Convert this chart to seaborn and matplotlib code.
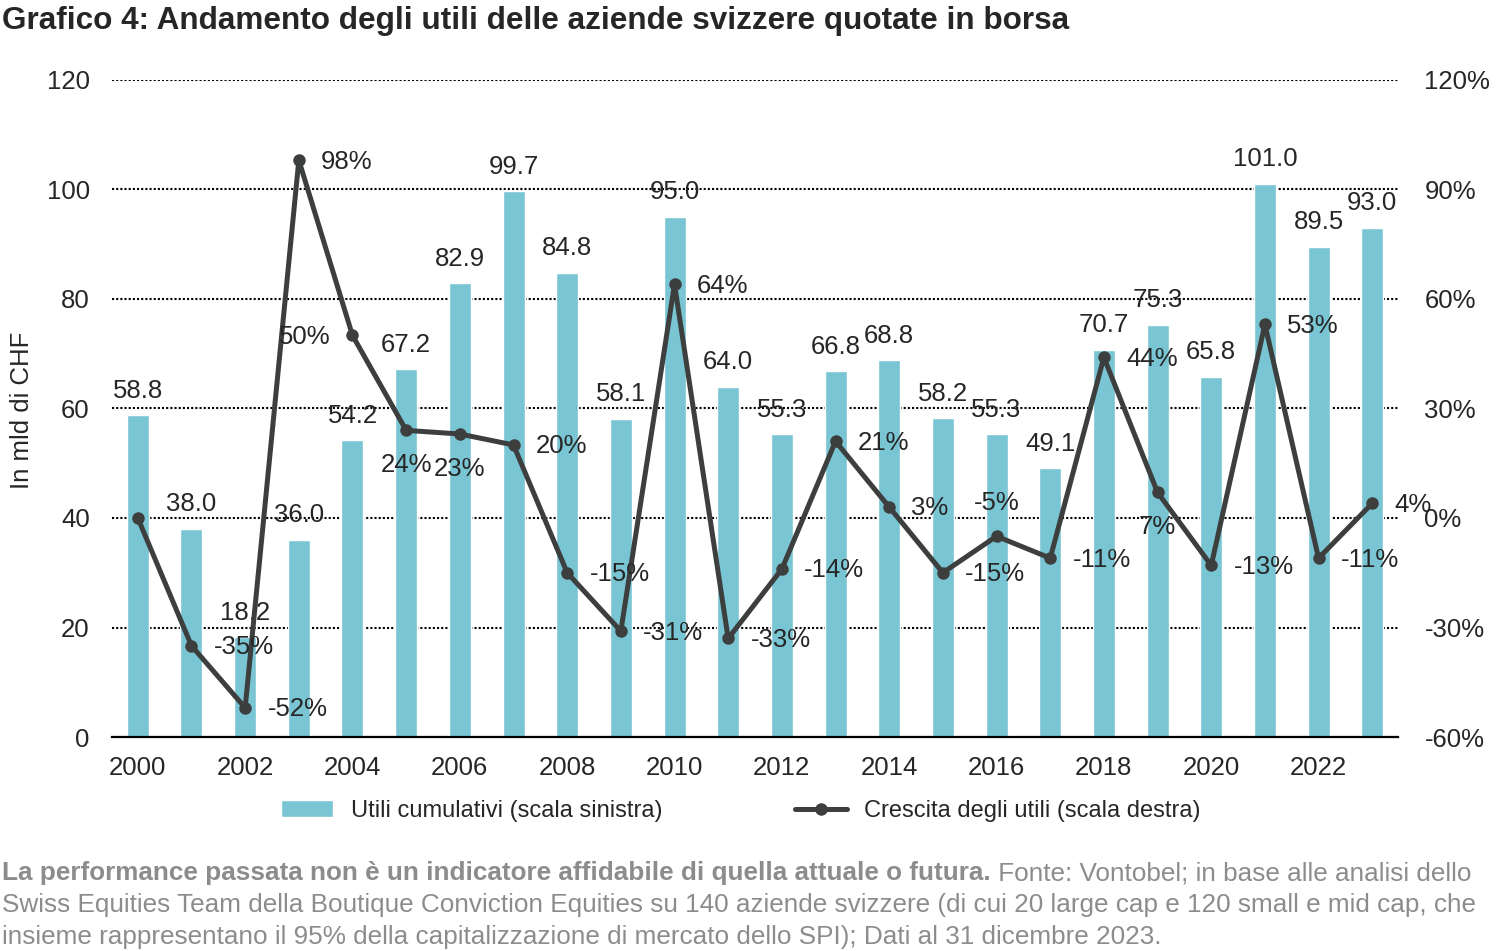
import numpy as np
import pandas as pd
import matplotlib
matplotlib.use("Agg")
import matplotlib.pyplot as plt
from matplotlib import font_manager
import seaborn as sns

# Dati
anni = list(range(2000, 2024))
utili = [58.8, 38.0, 18.2, 36.0, 54.2, 67.2, 82.9, 99.7, 84.8, 58.1, 95.0, 64.0,
         55.3, 66.8, 68.8, 58.2, 55.3, 49.1, 70.7, 75.3, 65.8, 101.0, 89.5, 93.0]
crescita = [0, -35, -52, 98, 50, 24, 23, 20, -15, -31, 64, -33,
            -14, 21, 3, -15, -5, -11, 44, 7, -13, 53, -11, 4]
etichette_x = [str(a) if a % 2 == 0 else "" for a in anni]
tick_sx = [0, 20, 40, 60, 80, 100, 120]
tick_dx = [-60, -30, 0, 30, 60, 90, 120]

# posizione delle etichette di crescita: r=destra, l=sinistra, b=sotto, a=sopra, None=nessuna
pos_etichette = [None, "r", "r", "r", "l", "b", "b", "r", "r", "r", "r", "r",
                 "r", "r", "r", "r", "a", "r", "r", "b", "r", "r", "r", "r"]

df = pd.DataFrame({"anno": [str(a) for a in anni], "utili": utili, "crescita": crescita})

sns.set_style("white")
plt.rcParams["font.family"] = ["Liberation Sans", "DejaVu Sans"]
installati = {f.name for f in font_manager.fontManager.ttflist}
if "Liberation Sans Narrow" in installati:
    font_legenda = {"family": "Liberation Sans Narrow", "size": 18.5}
else:
    font_legenda = {"family": "Liberation Sans", "size": 17}

BLU = "#79C5D3"
GRIGIO = "#3D3F3E"
FS = 18.5

fig = plt.figure(figsize=(15, 9.51), dpi=100)
ax = fig.add_axes([0.0747, 0.225, 0.8573, 0.691])

sns.barplot(data=df, x="anno", y="utili", ax=ax, color=BLU, saturation=1, width=0.41,
            label="Utili cumulativi (scala sinistra)")
ax.bar_label(ax.containers[0], labels=[f"{v:.1f}" for v in utili], padding=9, fontsize=FS)

ax.set_ylim(0, 120)
ax.set_yticks(tick_sx)
ax.set_xticks(range(len(anni)))
ax.set_xticklabels(etichette_x)
ax.set_xlabel("")
ax.set_ylabel("")
ax.tick_params(axis="y", length=0, pad=16, labelsize=FS)
ax.tick_params(axis="x", length=0, pad=14, labelsize=FS)
ax.yaxis.grid(True, linestyle=(0, (1, 1)), color="black", linewidth=1.5)
ax.set_axisbelow(True)
for s in ["left", "right", "top"]:
    ax.spines[s].set_visible(False)
ax.spines["bottom"].set_color("black")
ax.spines["bottom"].set_linewidth(1.6)

ax2 = ax.twinx()
sns.lineplot(x=np.arange(len(anni)), y=crescita, ax=ax2, color=GRIGIO, marker="o",
             markersize=9, linewidth=3.6, markeredgewidth=0,
             label="Crescita degli utili (scala destra)", legend=False)
ax2.set_ylim(-60, 120)
ax2.set_yticks(tick_dx)
ax2.set_yticklabels([f"{v}%" for v in tick_dx])
ax2.tick_params(axis="y", length=0, pad=19, labelsize=FS)
ax2.set_ylabel("")
for s in ax2.spines.values():
    s.set_visible(False)

offset = {"r": ((16, -1), "left"), "l": ((-16, -1), "right"),
          "b": ((0, -25), "center"), "a": ((0, 24), "center")}
for i, (v, p) in enumerate(zip(crescita, pos_etichette)):
    if p is None:
        continue
    (dx, dy), ha = offset[p]
    ax2.annotate(f"{v}%", (i, v), xytext=(dx, dy), textcoords="offset points",
                 ha=ha, va="center", fontsize=FS)

ax.set_xlim(-0.48, len(anni) - 0.52)

fig.text(0.0147, 1 - 410 / 951, "In mld di CHF", rotation=90, ha="center", va="center",
         fontsize=FS)

# legenda
h1, l1 = ax.get_legend_handles_labels()
h2, l2 = ax2.get_legend_handles_labels()
leg = ax.legend(h1 + h2, l1 + l2, loc="center", bbox_to_anchor=(0.494, 1 - 811 / 951),
                bbox_transform=fig.transFigure, ncol=2, frameon=False, prop=font_legenda,
                handlelength=2.2, columnspacing=5.6, handletextpad=0.75)

fig.text(0.0013, 1 - 21 / 951, "Grafico 4: Andamento degli utili delle aziende svizzere quotate in borsa",
         fontsize=22.7, fontweight="bold", ha="left", va="center")

# note a piè di pagina
GRIGIO_NOTE = "#8C8C8C"
FS_NOTE = 18.8
t1 = fig.text(0.0013, 1 - 873 / 951,
              "La performance passata non è un indicatore affidabile di quella attuale o futura.",
              fontsize=FS_NOTE, fontweight="bold", color=GRIGIO_NOTE, ha="left", va="center")
fig.canvas.draw()
bb = t1.get_window_extent(renderer=fig.canvas.get_renderer())
fig.text(bb.x1 / fig.bbox.width, 1 - 873 / 951, " Fonte: Vontobel; in base alle analisi dello",
         fontsize=FS_NOTE, color=GRIGIO_NOTE, ha="left", va="center")
fig.text(0.0013, 1 - 905 / 951,
         "Swiss Equities Team della Boutique Conviction Equities su 140 aziende svizzere (di cui 20 large cap e 120 small e mid cap, che",
         fontsize=FS_NOTE, color=GRIGIO_NOTE, ha="left", va="center")
fig.text(0.0013, 1 - 937 / 951,
         "insieme rappresentano il 95% della capitalizzazione di mercato dello SPI); Dati al 31 dicembre 2023.",
         fontsize=FS_NOTE, color=GRIGIO_NOTE, ha="left", va="center")

fig.savefig("out.png", dpi=100)
